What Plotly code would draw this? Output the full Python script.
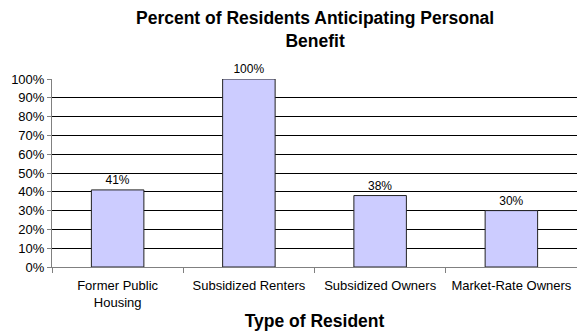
import plotly.graph_objects as go

categories = ["Former Public<br>Housing", "Subsidized Renters", "Subsidized Owners", "Market-Rate Owners"]
values = [0.41, 1.00, 0.38, 0.30]
labels = ["41%", "100%", "38%", "30%"]
y_ticks = [i / 10 for i in range(11)]
y_ticklabels = [f"{i*10}%" for i in range(11)]

FONT = "Liberation Sans, Arial, sans-serif"

fig = go.Figure(go.Bar(
    x=categories, y=values, text=labels, textposition="outside",
    textfont=dict(size=12, color="black", family=FONT),
    marker=dict(color="#CCCCFF", line=dict(color="#222222", width=1)),
    width=0.4, cliponaxis=False,
))

fig.update_layout(
    width=577, height=333,
    margin=dict(l=52, r=0, t=79, b=66),
    paper_bgcolor="white", plot_bgcolor="white",
    font=dict(family=FONT, color="black"),
    showlegend=False,
    annotations=[dict(
        text="<b>Percent of Residents Anticipating Personal<br>Benefit</b>",
        xref="paper", yref="paper", x=0.5, y=1, xanchor="center", yanchor="bottom",
        yshift=26, showarrow=False, align="center",
        font=dict(size=17.5, family=FONT, color="black"),
    )],
    xaxis=dict(
        title=dict(text="<b>Type of Resident</b>", font=dict(size=17.5, family=FONT, color="black"), standoff=6),
        tickfont=dict(size=13, family=FONT, color="black"),
        tickson="boundaries", ticks="outside", ticklen=5, tickcolor="#808080",
        ticklabelstandoff=6,
        showline=True, linecolor="#808080", linewidth=1, showgrid=False,
    ),
    yaxis=dict(
        range=[0, 1], tickvals=y_ticks, ticktext=y_ticklabels,
        tickfont=dict(size=13, family=FONT, color="black"),
        ticks="outside", ticklen=4, tickcolor="#808080",
        showline=True, linecolor="#808080", linewidth=1,
        showgrid=True, gridcolor="#000000", gridwidth=1, zeroline=False,
    ),
)

fig.write_html("out.html")
